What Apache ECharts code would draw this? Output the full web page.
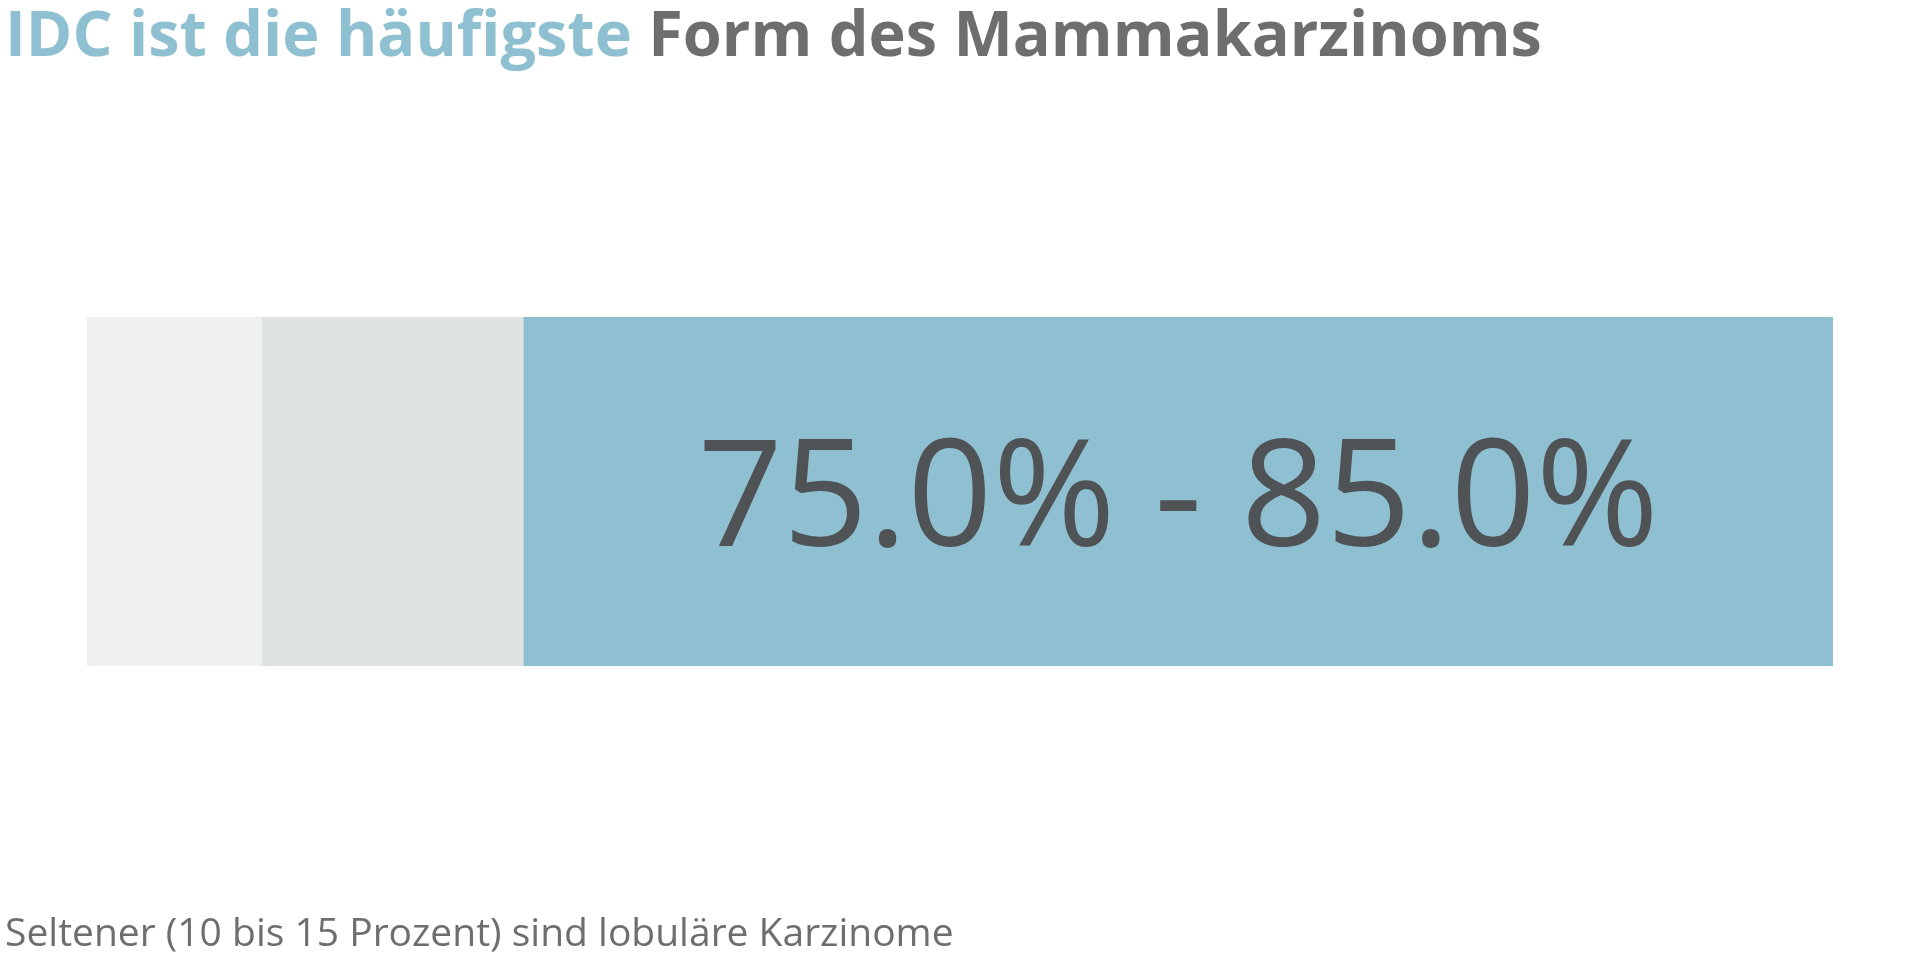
<!DOCTYPE html>
<html>
<head>
<meta charset="utf-8">
<script src="https://cdn.jsdelivr.net/npm/echarts@6/dist/echarts.min.js"></script>
<style>html,body{margin:0;padding:0;background:#fff}#c{width:1920px;height:960px}</style>
</head>
<body>
<div id="c"></div>
<script>
const categories = ['Mammakarzinom'];
const seriesNames = ['Andere', 'Lobulär', 'IDC'];
const seriesValues = [[10], [15], [75]];
const rangeLabel = '75.0% - 85.0%';
const titleHighlight = 'IDC ist die häufigste';
const titleRest = 'Form des Mammakarzinoms';
const footnote = 'Seltener (10 bis 15 Prozent) sind lobuläre Karzinome';

const colors = ['#eff1f0', '#dee2e3', '#8ec0d1'];
const chart = echarts.init(document.getElementById('c'));
chart.setOption({
  animation: false,
  title: [
    {
      text: '{a|' + titleHighlight + ' }{b|' + titleRest + '}',
      left: 0, top: 2,
      textStyle: {
        rich: {
          a: {fontFamily: 'Open Sans', fontWeight: 'bold', fontSize: 63, color: '#8ec0d1'},
          b: {fontFamily: 'Open Sans', fontWeight: 'bold', fontSize: 63, color: '#6e6e6e'}
        }
      }
    },
    {
      text: footnote,
      left: 0, bottom: 1,
      textStyle: {fontFamily: 'Open Sans', fontWeight: 'normal', fontSize: 39, color: '#6e6e6e'}
    }
  ],
  grid: {left: 87, right: 87, top: 317, bottom: 294},
  xAxis: {type: 'value', min: 0, max: 100, show: false},
  yAxis: {type: 'category', data: categories, show: false},
  series: seriesNames.map((n, i) => ({
    name: n,
    type: 'bar',
    stack: 'total',
    barWidth: '100%',
    data: seriesValues[i],
    itemStyle: {color: colors[i]},
    label: i === 2 ? {
      show: true, position: 'inside', offset: [0, 12],
      formatter: () => rangeLabel,
      fontFamily: 'Open Sans', fontSize: 149, color: '#4f5356'
    } : {show: false}
  }))
});
</script>
</body>
</html>
